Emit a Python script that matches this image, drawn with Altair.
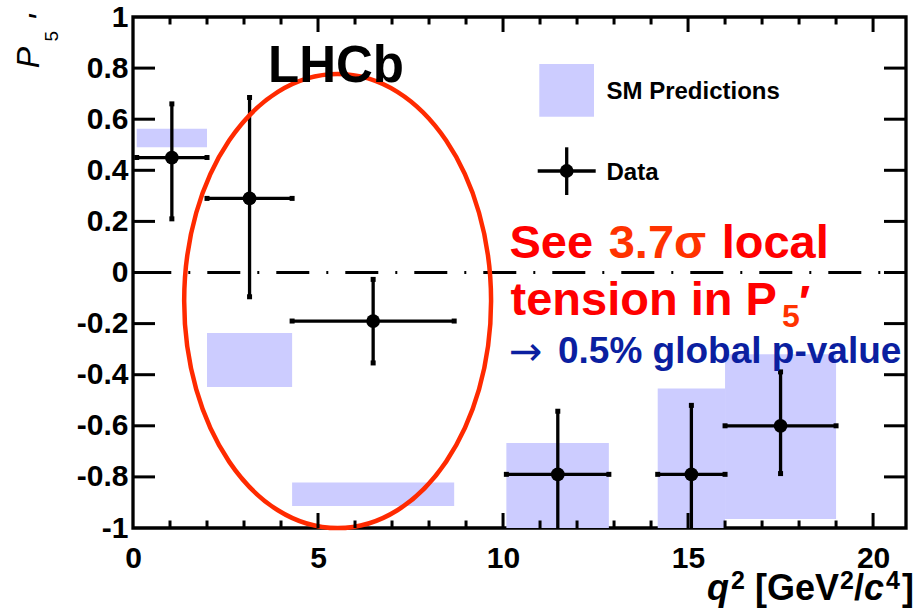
import altair as alt
import pandas as pd

# ---------------- data ----------------
bin_lo  = [0.10, 2.00, 4.30, 10.09, 14.18, 16.00]
bin_hi  = [2.00, 4.30, 8.68, 12.86, 16.00, 19.00]
bin_mid = [1.05, 3.15, 6.49, 11.48, 15.09, 17.50]
p5      = [0.45, 0.29, -0.19, -0.79, -0.79, -0.60]
p5_hi   = [0.66, 0.685, -0.027, -0.543, -0.52, -0.389]
p5_lo   = [0.21, -0.095, -0.354, -1.05, -1.05, -0.787]
sm_lo   = [0.49, -0.448, -0.914, -1.00, -1.00, -0.965]
sm_hi   = [0.563, -0.237, -0.822, -0.667, -0.454, -0.32]

x_labels = [0, 5, 10, 15, 20]
y_labels = [-1, -0.8, -0.6, -0.4, -0.2, 0, 0.2, 0.4, 0.6, 0.8, 1]
x_minor = [1, 2, 3, 4, 6, 7, 8, 9, 11, 12, 13, 14, 16, 17, 18, 19]
x_major = [5, 10, 15, 20]
y_ticks = [-0.8, -0.6, -0.4, -0.2, 0, 0.2, 0.4, 0.6, 0.8]

X_MAX = 20.89
ELL_CX, ELL_CY = 5.53, -0.112   # annotation ellipse centre (data units)

# ---------------- geometry / style ----------------
L, T, W, H = 133, 17, 773, 511
FONT = "Liberation Sans"
SM_COLOR = "#ccccff"
RED = "#ff0000"
ORANGE = "#ff3300"
BLUE = "#0b1fa0"

xs = alt.Scale(domain=[0, X_MAX], nice=False, zero=False)
ys = alt.Scale(domain=[-1, 1], nice=False, zero=False)
XAX = alt.Axis(values=x_labels, ticks=False, domain=False, grid=False, title=None,
               labelFont=FONT, labelFontWeight="bold", labelFontSize=30, labelColor="black",
               labelPadding=15, labelFlush=False, labelOverlap=False, labelBound=False)
YAX = alt.Axis(values=y_labels, ticks=False, domain=False, grid=False, title=None,
               labelFont=FONT, labelFontWeight="bold", labelFontSize=30, labelColor="black",
               labelPadding=5, labelFlush=False, labelOverlap=False, labelBound=False,
               labelExpr="(datum.value < 0 ? '-' : '') + format(abs(datum.value), '~g')")


def X(f):
    return alt.X(f, type="quantitative", scale=xs, axis=XAX)


def Y(f):
    return alt.Y(f, type="quantitative", scale=ys, axis=YAX)


data = pd.DataFrame({"lo": bin_lo, "hi": bin_hi, "mid": bin_mid, "p": p5,
                     "pu": p5_hi, "pd": p5_lo, "slo": sm_lo, "shi": sm_hi})
caps = pd.DataFrame({"q": bin_lo + bin_hi + bin_mid + bin_mid,
                     "v": p5 + p5 + p5_lo + p5_hi})
one = pd.DataFrame({"k": [0]})

layers = []
# SM prediction boxes
layers.append(alt.Chart(data).mark_rect(color=SM_COLOR, opacity=1, clip=True).encode(
    x=X("lo"), x2="hi", y=Y("slo"), y2="shi"))
# zero dash-dot line
zl = pd.DataFrame({"a": [0.0], "b": [X_MAX], "z": [0.0]})
layers.append(alt.Chart(zl).mark_rule(color="black", strokeWidth=3,
                                      strokeDash=[33, 17, 2, 17], strokeDashOffset=63.7).encode(
    x=X("a"), x2="b", y=Y("z")))
# error bars
layers.append(alt.Chart(data).mark_rule(color="black", strokeWidth=3.3, clip=True).encode(
    x=X("lo"), x2="hi", y=Y("p")))
layers.append(alt.Chart(data).mark_rule(color="black", strokeWidth=3.3, clip=True).encode(
    x=X("mid"), y=Y("pd"), y2="pu"))
layers.append(alt.Chart(caps).mark_square(color="black", size=25, opacity=1, clip=True).encode(
    x=X("q"), y=Y("v")))
layers.append(alt.Chart(data).mark_circle(color="black", size=190, opacity=1).encode(
    x=X("mid"), y=Y("p")))

# ellipse annotation (custom symbol)
ell_path = ("M0,-1C0.3734,-1,0.676,-0.5523,0.676,0C0.676,0.5523,0.3734,1,0,1"
            "C-0.3734,1,-0.676,0.5523,-0.676,0C-0.676,-0.5523,-0.3734,-1,0,-1Z")
ell = pd.DataFrame({"cx": [ELL_CX], "cy": [ELL_CY]})
layers.append(alt.Chart(ell).mark_point(shape=ell_path, size=454 ** 2, filled=False,
                                        stroke="#ff2a00", strokeWidth=4.5, opacity=1).encode(
    x=X("cx"), y=Y("cy")))

# inward ticks
mn = pd.DataFrame({"t": x_minor})
mj = pd.DataFrame({"t": x_major})
yt = pd.DataFrame({"t": y_ticks})
for df, ln in ((mn, 7.5), (mj, 15)):
    layers.append(alt.Chart(df).mark_rule(color="black", strokeWidth=3).encode(
        x=X("t"), y=alt.value(H), y2=alt.value(H - ln)))
    layers.append(alt.Chart(df).mark_rule(color="black", strokeWidth=3).encode(
        x=X("t"), y=alt.value(0), y2=alt.value(ln)))
layers.append(alt.Chart(yt).mark_rule(color="black", strokeWidth=3).encode(
    y=Y("t"), x=alt.value(0), x2=alt.value(22)))
layers.append(alt.Chart(yt).mark_rule(color="black", strokeWidth=3).encode(
    y=Y("t"), x=alt.value(W), x2=alt.value(W - 22)))


def txt(s, x, y, size, color="black", weight="bold", style="normal",
        align="left", baseline="alphabetic", angle=0, font=FONT):
    return alt.Chart(one).mark_text(text=s, font=font, fontSize=size, fontWeight=weight,
                                    fontStyle=style, color=color, align=align,
                                    baseline=baseline, angle=angle).encode(
        x=alt.value(x - L), y=alt.value(y - T))


def prect(x1, x2, y1, y2, color):
    return alt.Chart(one).mark_rect(color=color, opacity=1).encode(
        x=alt.value(x1 - L), x2=alt.value(x2 - L), y=alt.value(y1 - T), y2=alt.value(y2 - T))


def prule(x1, x2, y1, y2):
    return alt.Chart(one).mark_rule(color="black", strokeWidth=3.3).encode(
        x=alt.value(x1 - L), x2=alt.value(x2 - L), y=alt.value(y1 - T), y2=alt.value(y2 - T))


# legend
layers.append(prect(539.3, 594, 64, 116.7, SM_COLOR))
layers.append(txt("SM Predictions", 606.5, 99.3, 24))
layers.append(prule(537.7, 595.7, 171, 171))
layers.append(prule(566.7, 566.7, 147.3, 195))
layers.append(alt.Chart(one).mark_circle(color="black", size=190, opacity=1).encode(
    x=alt.value(566.7 - L), y=alt.value(171 - T)))
layers.append(txt("Data", 606.5, 180, 24))

# LHCb label
layers.append(txt("LHCb", 268, 81.7, 51))

# red / blue annotations
layers.append(txt("See", 509.5, 258.3, 47, color=RED))
layers.append(txt("3.7σ", 608.7, 258.3, 47, color=ORANGE))
layers.append(txt("local", 721.7, 258.3, 47, color=RED))
layers.append(txt("tension in P", 510.5, 315, 47, color=RED))
layers.append(txt("5", 782, 327, 32, color=ORANGE))
layers.append(txt("′", 799, 318, 47, color=RED))
layers.append(txt("→", 509, 365, 40, color=BLUE, weight="normal", font="DejaVu Sans"))
layers.append(txt("0.5% global p-value", 558, 363, 37, color=BLUE))

# y-axis title  P5'
layers.append(txt("P", 39, 57.5, 32, weight="normal", style="italic", align="center", angle=270))
layers.append(txt("5", 58.3, 36.3, 19, weight="normal", align="center", angle=270))
layers.append(txt("'", 52, 18, 34, weight="normal", style="italic", align="center", angle=270))

# x-axis title  q^2 [GeV^2/c^4]
XB = 600
XS = 589
layers.append(txt("q", 707, XB, 36, style="italic"))
layers.append(txt("2", 731, XS, 25))
layers.append(txt("[GeV", 755, XB, 36))
layers.append(txt("2", 840, XS, 25))
layers.append(txt("/", 854, XB, 36))
layers.append(txt("c", 864, XB, 36, style="italic"))
layers.append(txt("4", 886, XS, 25))
layers.append(txt("]", 902, XB, 36))

chart = alt.layer(*layers).properties(
    width=W, height=H,
    autosize=alt.AutoSizeParams(type="none"),
    padding={"left": L, "top": T, "right": 922 - L - W, "bottom": 610 - T - H},
    background="white",
).configure_view(stroke="black", strokeWidth=3.3)

chart.save("out.html", embed_options={"renderer": "svg", "actions": False})
